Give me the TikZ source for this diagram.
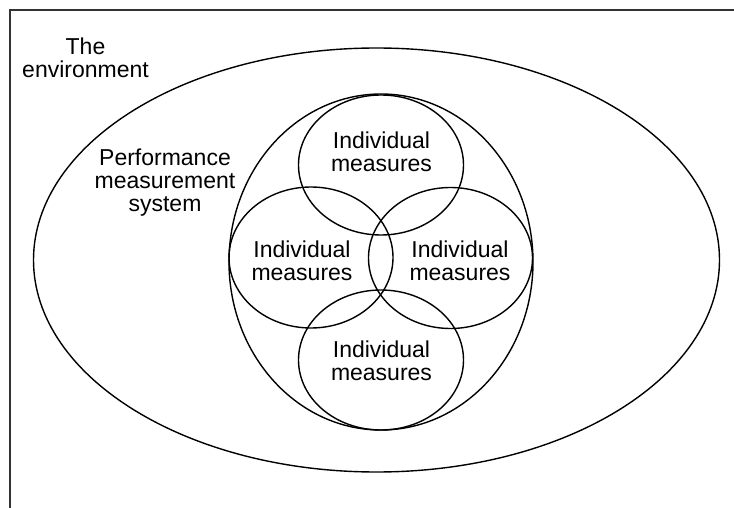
\documentclass[tikz,border=0pt]{standalone}
\usepackage{fontspec}
\setmainfont{Liberation Sans}
\usetikzlibrary{shapes.geometric}
\begin{document}
\begin{tikzpicture}[x=1pt,y=-1pt,
  ring/.style={draw=black,line width=1.4pt,ellipse,inner sep=0pt},
  lbl/.style={align=center,inner sep=0pt,font=\fontsize{23}{23}\selectfont},
  frameline/.style={draw=black!80,line width=1.6pt}]
\useasboundingbox (0,0) rectangle (734,508);
\coordinate (fr1) at (734,10);
\coordinate (fr2) at (10,10);
\coordinate (fr3) at (10,508);
\draw[frameline] (fr1) -- (fr2) -- (fr3);
\node[ring,minimum width=686pt,minimum height=424pt] (env) at (376.5,260) {};
\node[ring,minimum width=304pt,minimum height=336pt] (pms) at (381,262) {};
\node[ring,minimum width=165pt,minimum height=140pt] (ctop) at (381,165) {};
\node[ring,minimum width=164pt,minimum height=141pt] (cleft) at (311,257.5) {};
\node[ring,minimum width=164pt,minimum height=141pt] (cright) at (450.5,258) {};
\node[ring,minimum width=165pt,minimum height=140pt] (cbot) at (381,360) {};
\node[lbl] (tenv) at (85.5,57.5) {The\\environment};
\node[lbl] (tpms) at (165,182.4) {Performance\\measurement\\system};
\node[lbl] (ttop) at (381.5,152) {Individual\\measures};
\node[lbl] (tleft) at (302,261) {Individual\\measures};
\node[lbl] (tright) at (460,261) {Individual\\measures};
\node[lbl] (tbot) at (381.5,361) {Individual\\measures};
\end{tikzpicture}
\end{document}
